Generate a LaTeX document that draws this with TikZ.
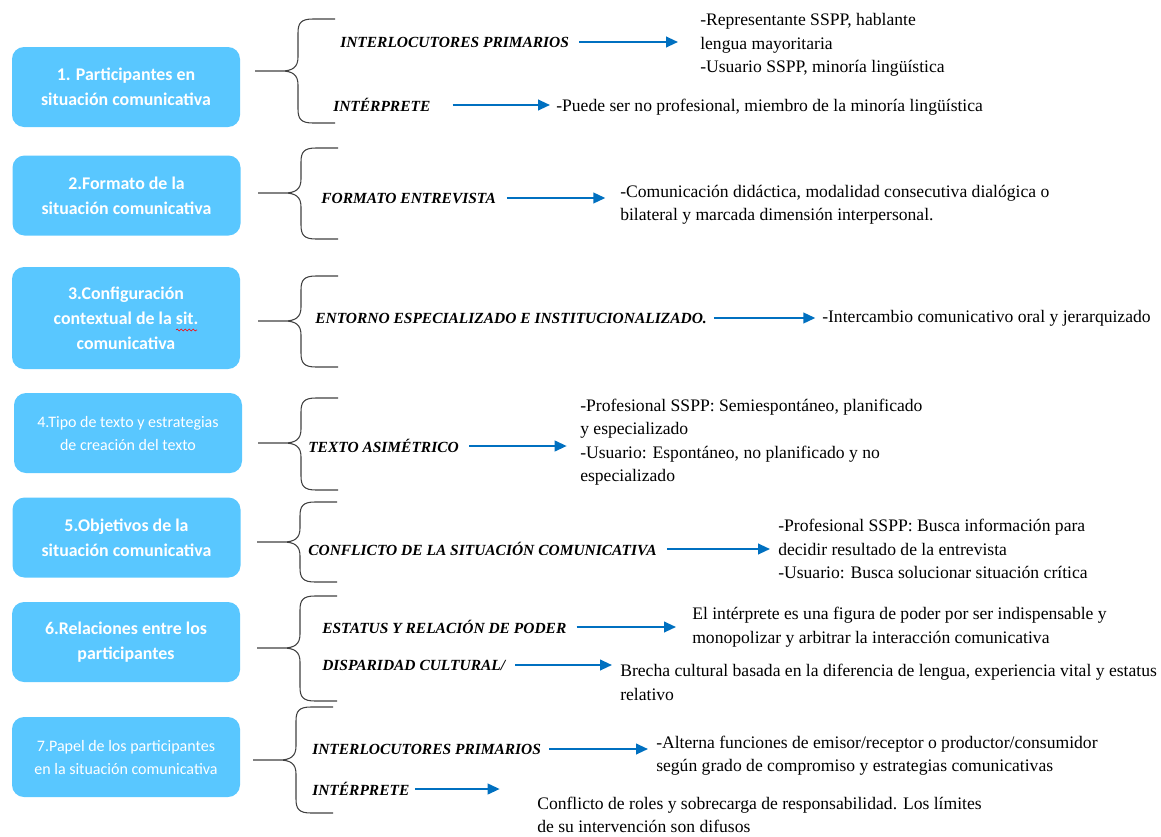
\documentclass[tikz,border=0pt]{standalone}
\usepackage{fontspec}
\setmainfont{Liberation Serif}
\newfontfamily\boxfont{Carlito}
\usepackage{xcolor}
\usepackage{tikz}
\usetikzlibrary{arrows.meta, positioning, decorations.pathmorphing}
\definecolor{skyfill}{RGB}{89,199,255}
\definecolor{arrowblue}{RGB}{0,112,192}

% curly brace: tip x, tip y, top y, bottom y (pixel units)
\newcommand{\curly}[4]{%
  \draw[brc] ({#1+80},#3) -- ({#1+58},#3)
    .. controls ({#1+46},#3) and ({#1+43},{#3+4}) .. ({#1+43},{#3+14})
    -- ({#1+43},{#2-14})
    .. controls ({#1+43},{#2-4}) and ({#1+38},#2) .. ({#1+26},#2) -- (#1,#2)
    -- ({#1+26},#2)
    .. controls ({#1+38},#2) and ({#1+43},{#2+4}) .. ({#1+43},{#2+14})
    -- ({#1+43},{#4-14})
    .. controls ({#1+43},{#4-4}) and ({#1+46},#4) .. ({#1+58},#4) -- ({#1+80},#4);}

\begin{document}
\begin{tikzpicture}[x=0.75pt, y=-0.75pt,
      box/.style={rectangle, rounded corners=9pt, fill=skyfill, draw=none,
                  minimum width=171pt, minimum height=60pt, text=white,
                  font=\boxfont\bfseries\fontsize{13.4}{18.75}\selectfont, align=center},
      boxthin/.style={box, font=\boxfont\fontsize{12}{17.25}\selectfont},
      lab/.style={anchor=west, inner sep=0pt,
                  font=\fontsize{11.6}{14}\selectfont\bfseries\itshape},
      desc/.style={anchor=west, inner sep=0pt, align=left,
                   font=\fontsize{13.2}{17.6}\selectfont},
      arr/.style={-{Triangle[length=9pt, width=8pt]}, line width=1.5pt, color=arrowblue},
      brc/.style={line width=0.8pt, color=black!75}
    ]
      \useasboundingbox (0,0) rectangle (1161,836);

      % left boxes
      \node[box] (b1) at (126,87) {1. Participantes en\\situación comunicativa};
      \node[box] (b2) at (126.5,195.5) {2.Formato de la\\situación comunicativa};
      \node[box, minimum height=76.5pt] (b3) at (126,318)
        {3.Configuración\\contextual de la sit.\\comunicativa};
      \node[boxthin] (b4) at (128,433) {4.Tipo de texto y estrategias\\de creación del texto};
      \node[box] (b5) at (126.5,537.5) {5.Objetivos de la\\situación comunicativa};
      \node[box] (b6) at (126,642) {6.Relaciones entre los\\participantes};
      \node[boxthin] (b7) at (126,757) {7.Papel de los participantes\\en la situación comunicativa};
      \draw[red, decorate, decoration={snake, amplitude=0.7pt, segment length=3pt}]
        (176,330) -- (197,330);

      % braces
      \curly{255}{71}{19}{123}
      \curly{258}{193}{148}{239}
      \curly{258}{321}{276}{367}
      \curly{258}{443}{398}{490}
      \curly{257}{542}{502}{582}
      \curly{257}{648}{596}{701}
      \curly{253}{760}{707}{813}

      % labels
      \node[lab] (l1a) at (340,42) {INTERLOCUTORES PRIMARIOS};
      \node[lab] (l1b) at (333,105) {INTÉRPRETE};
      \node[lab] (l2) at (321,198) {FORMATO ENTREVISTA};
      \node[lab] (l3) at (315,318) {ENTORNO ESPECIALIZADO E INSTITUCIONALIZADO.};
      \node[lab] (l4) at (308,446) {TEXTO ASIMÉTRICO};
      \node[lab] (l5) at (308,549) {CONFLICTO DE LA SITUACIÓN COMUNICATIVA};
      \node[lab] (l6a) at (322,627) {ESTATUS Y RELACIÓN DE PODER};
      \node[lab] (l6b) at (322,665) {DISPARIDAD CULTURAL/};
      \node[lab] (l7a) at (312,749) {INTERLOCUTORES PRIMARIOS};
      \node[lab] (l7b) at (312,789) {INTÉRPRETE};

      % descriptions
      \node[desc] (d1a) at (700,45)
        {-Representante SSPP, hablante\\lengua mayoritaria\\-Usuario SSPP, minoría lingüística};
      \node[desc] (d1b) at (556,107) {-Puede ser no profesional, miembro de la minoría lingüística};
      \node[desc] (d2) at (620,205)
        {-Comunicación didáctica, modalidad consecutiva dialógica o\\bilateral y marcada dimensión interpersonal.};
      \node[desc] (d3) at (822,318) {-Intercambio comunicativo oral y jerarquizado};
      \node[desc] (d4) at (580,442)
        {-Profesional SSPP: Semiespontáneo, planificado\\y especializado\\-Usuario: Espontáneo, no planificado y no\\especializado};
      \node[desc] (d5) at (778,549)
        {-Profesional SSPP: Busca información para\\decidir resultado de la entrevista\\-Usuario: Busca solucionar situación crítica};
      \node[desc] (d6a) at (692,627)
        {El intérprete es una figura de poder por ser indispensable y\\monopolizar y arbitrar la interacción comunicativa};
      \node[desc] (d6b) at (620,682.5)
        {Brecha cultural basada en la diferencia de lengua, experiencia vital y estatus\\relativo};
      \node[desc] (d7a) at (656,755.5)
        {-Alterna funciones de emisor/receptor o productor/consumidor\\según grado de compromiso y estrategias comunicativas};
      \node[desc] (d7b) at (537,815)
        {Conflicto de roles y sobrecarga de responsabilidad. Los límites\\de su intervención son difusos};

      % arrows
      \draw[arr, shorten <=7.5pt, shorten >=16.5pt] (l1a) -- (l1a -| d1a.west);
      \draw[arr, shorten <=16.5pt, shorten >=4.5pt] (l1b) -- (l1b -| d1b.west);
      \draw[arr, shorten <=8pt, shorten >=11pt] (l2) -- (l2 -| d2.west);
      \draw[arr, shorten <=5pt, shorten >=5pt] (l3) -- (l3 -| d3.west);
      \draw[arr, shorten <=7.5pt, shorten >=10pt] (l4) -- (l4 -| d4.west);
      \draw[arr, shorten <=7.5pt, shorten >=6pt] (l5) -- (l5 -| d5.west);
      \draw[arr, shorten <=7.5pt, shorten >=12pt] (l6a) -- (l6a -| d6a.west);
      \draw[arr, shorten <=7.5pt, shorten >=6pt] (l6b) -- (l6b -| d6b.west);
      \draw[arr, shorten <=6pt, shorten >=6pt] (l7a) -- (l7a -| d7a.west);
      \draw[arr, shorten <=4pt, shorten >=28pt] (l7b) -- (l7b -| d7b.west);
    \end{tikzpicture}
\end{document}
